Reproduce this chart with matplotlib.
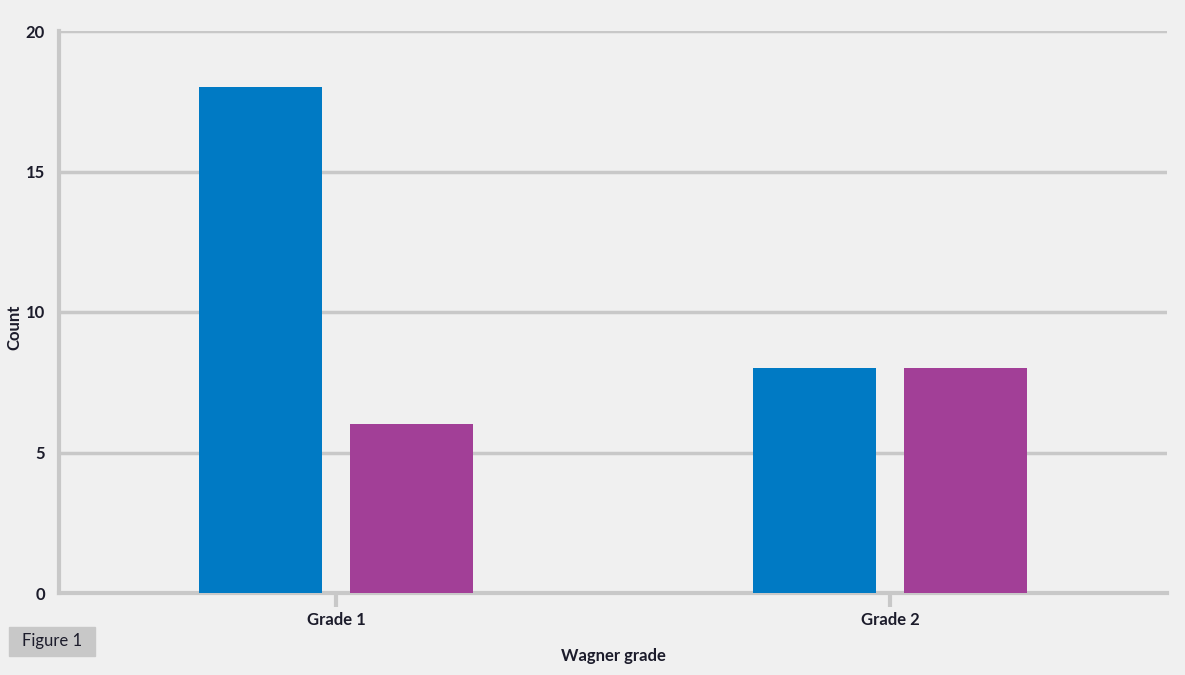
import matplotlib
matplotlib.use("Agg")
import matplotlib.pyplot as plt
import numpy as np
from matplotlib.patches import Rectangle

categories = ["Grade 1", "Grade 2"]
series_a = [18, 8]
series_b = [6, 8]
yticks = [0, 5, 10, 15, 20]

bg = "#f0f0f0"
grid_c = "#c8c8c8"
text_c = "#1c1c2b"
blue = "#007ac4"
purple = "#a23f97"

plt.rcParams['font.family'] = ['Lato', 'DejaVu Sans']

fig = plt.figure(figsize=(11.85, 6.75), dpi=100, facecolor=bg)
ax = fig.add_axes([59/1185, 1-593/675, (1167-59)/1185, (593-31)/675])
ax.set_facecolor(bg)

x = np.arange(len(categories))
w = 0.222
off = 0.136
ax.bar(x - off, series_a, width=w, color=blue, zorder=3)
ax.bar(x + off, series_b, width=w, color=purple, zorder=3)

ax.set_xlim(-0.5, 1.5)
ax.set_ylim(0, 20)
ax.set_yticks(yticks)
ax.set_yticklabels([str(t) for t in yticks], fontsize=12, fontweight='bold', color=text_c)
ax.set_xticks(x)
ax.set_xticklabels(categories, fontsize=12, fontweight='bold', color=text_c)
ax.tick_params(axis='y', length=0, pad=10)
ax.tick_params(axis='x', length=10, width=3, color=grid_c, pad=4)

ax.grid(axis='y', color=grid_c, linewidth=2.5, zorder=0)
ax.set_axisbelow(True)
for s in ['top', 'right']:
    ax.spines[s].set_visible(False)
for s in ['left', 'bottom']:
    ax.spines[s].set_color(grid_c)
    ax.spines[s].set_linewidth(3)

ax.set_xlabel("Wagner grade", fontsize=12, fontweight='bold', color=text_c, labelpad=14)
ax.set_ylabel("Count", fontsize=12, fontweight='bold', color=text_c)
ax.yaxis.set_label_coords(-(59 - 22) / 1108, 0.473)

fig.patches.append(Rectangle((9/1185, 1-656/675), 86/1185, 29/675,
                             transform=fig.transFigure, color=grid_c, zorder=1))
fig.text(52/1185, 1-641/675, "Figure 1", ha='center', va='center',
         fontsize=12, color=text_c)

fig.savefig("out.png", dpi=100, facecolor=bg)
